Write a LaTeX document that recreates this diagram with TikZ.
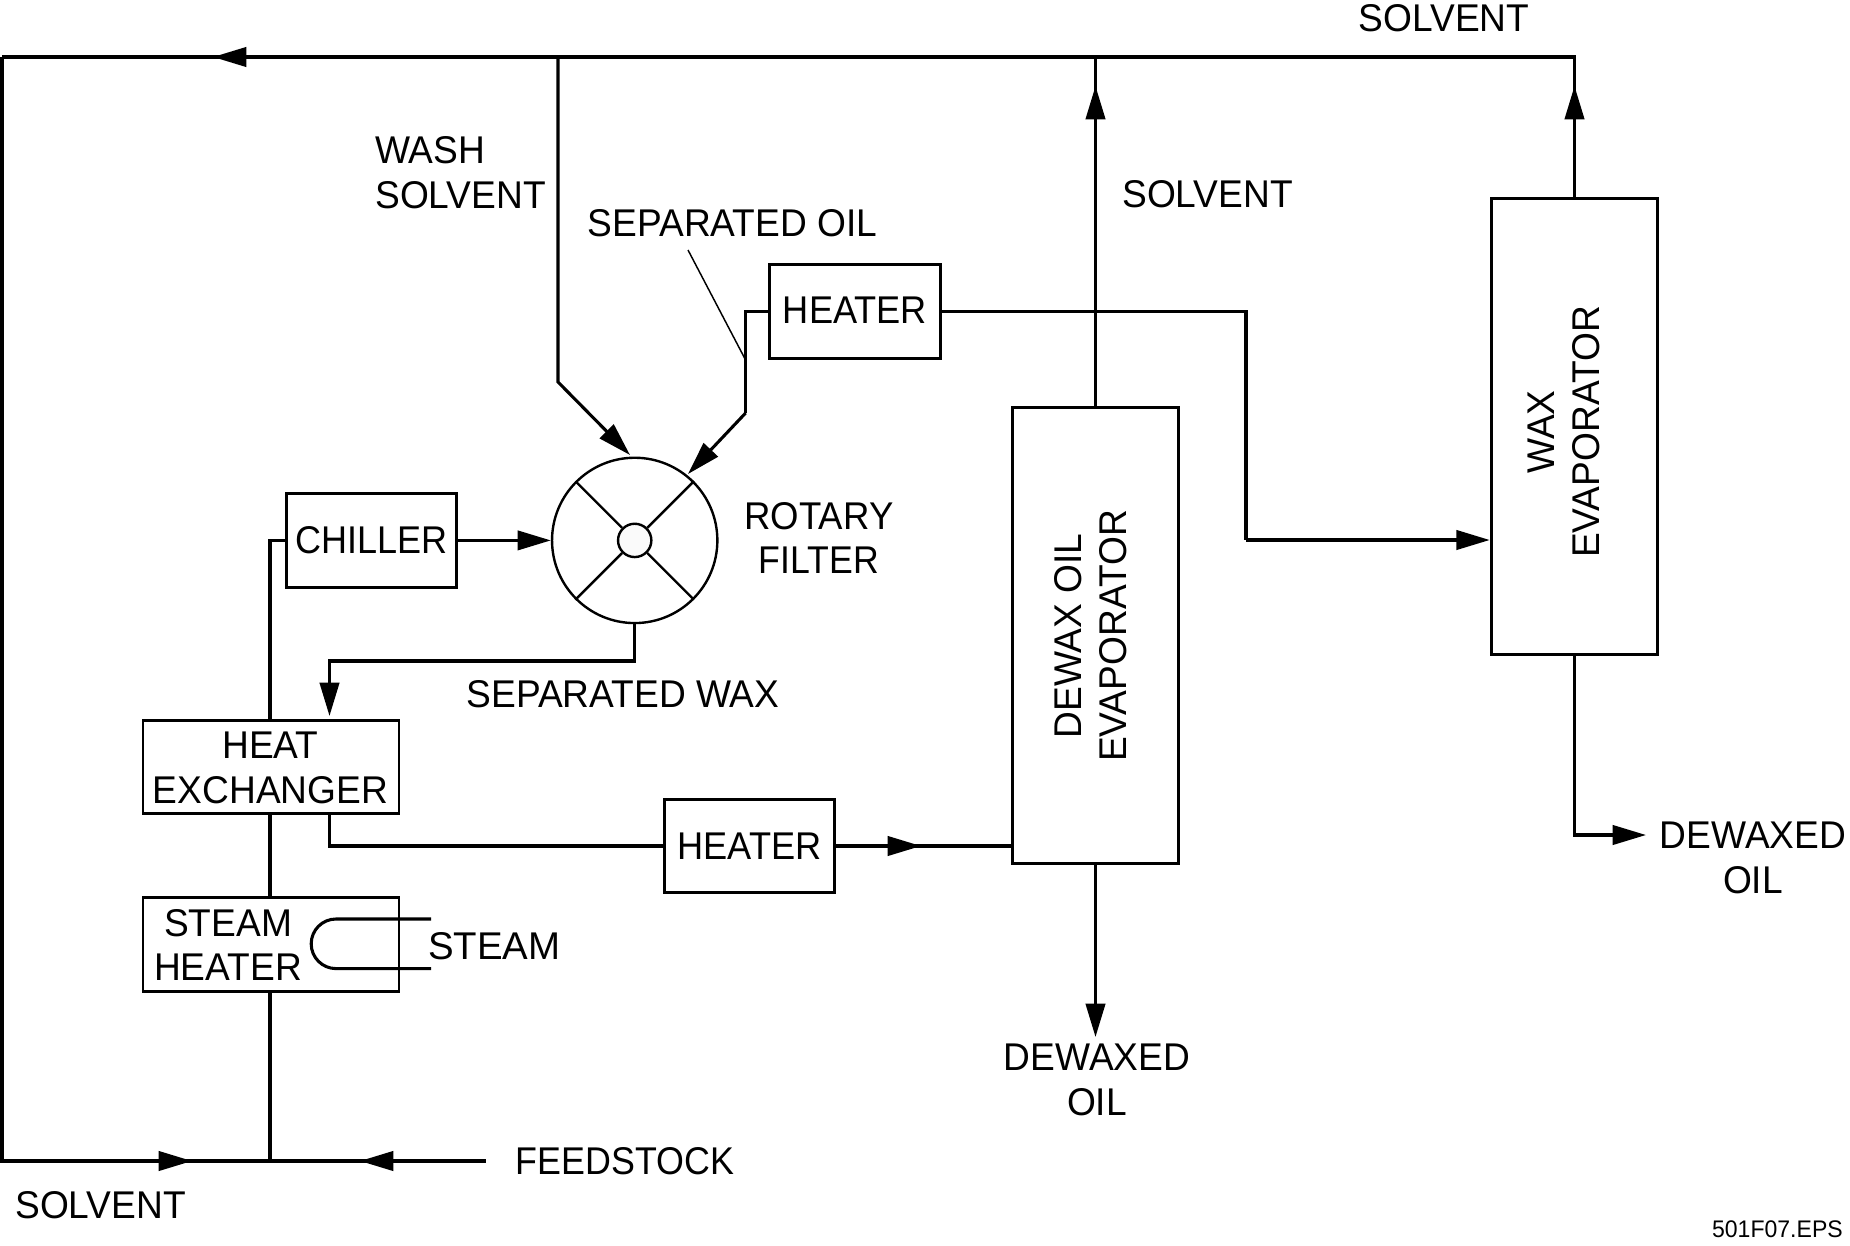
\documentclass[tikz,border=0pt]{standalone}
\usepackage{fontspec}
\setmainfont[FakeStretch=0.96]{Liberation Sans}
\usetikzlibrary{arrows.meta}
\tikzset{
  x=0.75pt,y=-0.75pt,
  bx/.style={draw,line width=2.2pt,inner sep=0pt,align=center,font=\lbl},
  lb/.style={inner sep=0pt,align=center,font=\lbl},
  lbl/.style={inner sep=0pt,align=left,font=\lbl},
  flow/.style={line width=2.3pt,line join=miter},
  thin line/.style={line width=1.1pt},
  wheel/.style={line width=1.8pt},
  tip/.style={-{Triangle[length=25pt,width=14.5pt]}}
}
\newcommand{\lbl}{\fontsize{29}{33.6}\selectfont}
\newcommand{\sx}[2]{\scalebox{#1}[1]{#2}}
\begin{document}
\begin{tikzpicture}
\useasboundingbox (0,0) rectangle (1850,1246);
% boxes
\node[bx,minimum width=128pt,minimum height=70pt] (heaterA) at (855,311.5) {\raisebox{2pt}{\sx{0.975}{HEATER}}};
\node[bx,minimum width=128pt,minimum height=70pt] (chiller) at (371.5,540.4) {\raisebox{1pt}{\sx{0.97}{CHILLER}}};
\node[bx,minimum width=192pt,minimum height=70pt] (heatx) at (271,767) {};
\node[bx,minimum width=192pt,minimum height=70pt] (steam) at (271,944.5) {};
\node[bx,minimum width=128pt,minimum height=70pt] (heaterB) at (749.5,846) {\sx{0.975}{HEATER}};
\node[bx,minimum width=125pt,minimum height=342pt] (dewax) at (1095.5,635.5) {};
\node[bx,minimum width=125pt,minimum height=342pt] (wax) at (1574.5,426.5) {};
% rotary filter
\node[draw,wheel,circle,minimum size=124pt,inner sep=0pt] (rotary) at (634.7,540.4) {};
\node[draw,wheel,circle,minimum size=25pt,inner sep=0pt,fill=black!2] (hub) at (634.7,540.4) {};
\foreach \a in {45,135,225,315}{\draw[wheel] (hub.\a) -- (rotary.\a);}
% free coordinates
\coordinate (tl) at (2,57);
\coordinate (tr) at (1574.5,57);
\coordinate (bl) at (2,1161);
\coordinate (j) at (270,1161);
\coordinate (feedend) at (486,1161);
\coordinate (wsTop) at (558,57);
\coordinate (wsBend) at (558,382);
\coordinate (wsTip) at (630,455);
\coordinate (soBend) at (745.6,413);
\coordinate (soTop) at (745.6,311.5);
\coordinate (soTip) at (688,474);
\coordinate (ptrA) at (688,250);
\coordinate (ptrB) at (745.6,360);
% connectors
\draw[flow] (tl) -- (tr) -- (wax.north);
\draw[flow,tip] (1574.5,120) -- (1574.5,86);
\draw[flow,tip] (250,57) -- (213,57);
\draw[flow] (tl) -- (bl) -- (feedend);
\draw[flow,tip] (155,1161) -- (192,1161);
\draw[flow,tip] (400,1161) -- (360,1161);
\draw[flow] (j) -- (steam.south -| j);
\draw[flow] (steam.north -| j) -- (heatx.south -| j);
\draw[flow] (heatx.north -| j) -- (270,540.4) -- (chiller.west);
\draw[flow,tip] (chiller.east) -- (rotary.west);
\draw[flow,tip] (wsTop) -- (wsBend) -- (wsTip);
\draw[flow] (heaterA.west) -- (soTop) -- (soBend);
\draw[flow,tip] (soBend) -- (soTip);
\draw[thin line] (ptrA) -- (ptrB);
\draw[flow] (heaterA.east) -- (1246,311.5) -- (1246,540);
\draw[flow,tip] (1246,540) -- (wax.west |- 0,540);
\draw[flow,tip] (rotary.south) -- (634.7,661) -- (329.5,661) -- (329.5,716);
\draw[flow] (329.5,814) -- (329.5,846) -- (heaterB.west);
\draw[flow] (heaterB.east) -- (dewax.west |- heaterB.east);
\draw[flow,tip] (880,846) -- (921,846);
\draw[flow] (dewax.north) -- (1095.5,57);
\draw[flow,tip] (1095.5,120) -- (1095.5,86);
\draw[flow,tip] (dewax.south) -- (1095.5,1037);
\draw[flow,tip] (wax.south) -- (1574.5,835) -- (1646,835);
% steam coil
\draw[flow] (431,919) -- (336,919) arc[start angle=-90,end angle=-270,radius=24.8] -- (431,968.6);
% labels
\node[lb] (t1) at (1444,18) {SOLVENT};
\node[lbl,anchor=west] (t2) at (375,172.5) {WASH\\SOLVENT};
\node[lbl,anchor=west] (t3) at (587.5,223) {SEPARATED OIL};
\node[lbl,anchor=west] (t4) at (1122,194) {SOLVENT};
\node[lb] (t5) at (819,538) {\sx{0.985}{ROTARY}\\\sx{0.96}{FILTER}};
\node[lb] (t6) at (623,694) {SEPARATED WAX};
\node[lb] (t7) at (270.5,768) {HEAT\\EXCHANGER};
\node[lb] (t8) at (228,945) {STEAM\\HEATER};
\node[lbl,anchor=west] (t9) at (428,946) {\sx{1.035}{STEAM}};
\node[lb] (t10) at (1097,1079.5) {DEWAXED\\OIL};
\node[lbl,anchor=west] (t11) at (515.6,1161) {\sx{0.965}{FEEDSTOCK}};
\node[lbl,anchor=west] (t12) at (15,1205) {SOLVENT};
\node[lb] (t13) at (1753,857.5) {DEWAXED\\OIL};
\node[lb,rotate=90] (t14) at (1091,636) {DEWAX OIL\\EVAPORATOR};
\node[lb,rotate=90] (t15) at (1564,432) {WAX\\EVAPORATOR};
\node[inner sep=0pt,anchor=east,font=\fontsize{18}{21}\selectfont] (t16) at (1843,1229) {501F07.EPS};
\end{tikzpicture}
\end{document}
